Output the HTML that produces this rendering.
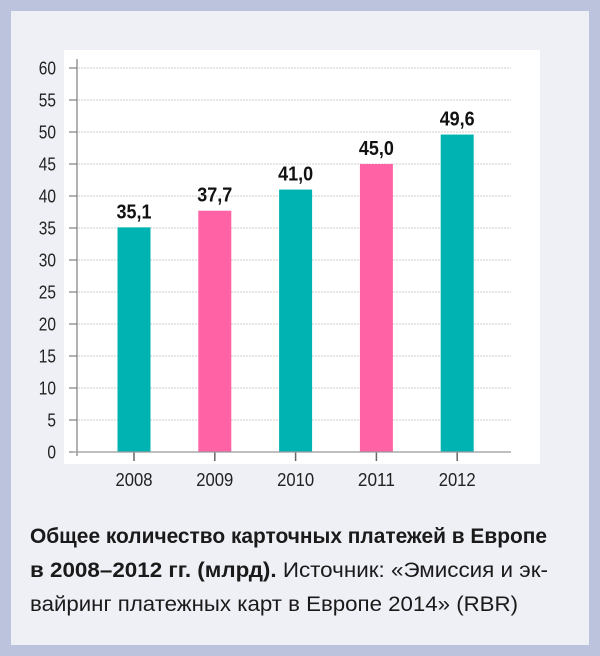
<!DOCTYPE html>
<html><head><meta charset="utf-8"><style>
body{margin:0;background:#bcc3dc;}
svg{display:block}
</style></head><body>
<svg width="600" height="656" xmlns="http://www.w3.org/2000/svg">
<rect x="11" y="11" width="578" height="634" fill="#eff0f6"/>
<rect x="64" y="50" width="476" height="414" fill="#ffffff"/>
<g id="grid"></g>
<g id="bars"></g>
<g id="axes"></g>
<g font-family="'Liberation Sans Narrow','Liberation Sans',sans-serif" font-size="21" fill="#1a1a1a">
<text x="30" y="543" font-weight="bold" textLength="517" lengthAdjust="spacingAndGlyphs">Общее количество карточных платежей в Европе</text>
<text x="30" y="577" textLength="518" lengthAdjust="spacingAndGlyphs"><tspan font-weight="bold">в 2008–2012 гг. (млрд).</tspan> Источник: «Эмиссия и эк-</text>
<text x="30" y="611" textLength="488" lengthAdjust="spacingAndGlyphs">вайринг платежных карт в Европе 2014» (RBR)</text>
</g>
</svg>
<script>
const categories=['2008','2009','2010','2011','2012'];
const values=[35.1,37.7,41.0,45.0,49.6];
const valueLabels=['35,1','37,7','41,0','45,0','49,6'];
const yTicks=[0,5,10,15,20,25,30,35,40,45,50,55,60];
const colors=['#00b3b3','#ff63a5','#00b3b3','#ff63a5','#00b3b3'];
const NS='http://www.w3.org/2000/svg';
const y=v=>452-v*6.4;
const x=i=>134+i*80.8;
const F="'Liberation Sans Narrow','Liberation Sans',sans-serif";
function mk(tag,attrs,parent,txt){const e=document.createElementNS(NS,tag);for(const k in attrs)e.setAttribute(k,attrs[k]);if(txt!==undefined)e.textContent=txt;parent.appendChild(e);return e;}
const grid=document.getElementById('grid'),bars=document.getElementById('bars'),axes=document.getElementById('axes');
yTicks.forEach(t=>{
  if(t>0){const l=mk('line',{x1:78,x2:511,y1:y(t),y2:y(t),stroke:'#cfcfcf','stroke-dasharray':'2,1'},grid);
  
  }
  const tk=mk('line',{x1:69,x2:77,y1:y(t),y2:y(t),stroke:'#666'},axes);
  
  
  const s=String(t);
  const tx=mk('text',{x:56-s.length*8.6,y:y(t)+6.5,'font-family':F,'font-size':18,fill:'#222',textLength:s.length*8.6,lengthAdjust:'spacingAndGlyphs'},axes,s);
  
  
});
categories.forEach((c,i)=>{
  const r=mk('rect',{x:x(i)-16.5,y:y(values[i]),width:33,height:y(0)-y(values[i]),fill:colors[i]},bars);
  
  
  const vl=mk('text',{x:x(i)-17.5,y:y(values[i])-9,'font-family':F,'font-size':20,'font-weight':'bold',fill:'#111',textLength:35,lengthAdjust:'spacingAndGlyphs'},bars,valueLabels[i]);
  
  
  const tk=mk('line',{x1:x(i),x2:x(i),y1:452,y2:461,stroke:'#666','stroke-width':1.5},axes);
  
  
  const xl=mk('text',{x:x(i)-18.5,y:486,'font-family':F,'font-size':18,fill:'#222',textLength:37,lengthAdjust:'spacingAndGlyphs'},axes,c);
  
  
});
const ya=mk('line',{x1:77,x2:77,y1:59,y2:456,stroke:'#666'},axes);


const xa=mk('line',{x1:73,x2:511,y1:452,y2:452,stroke:'#999','stroke-width':1.2},axes);


</script>
</body></html>
